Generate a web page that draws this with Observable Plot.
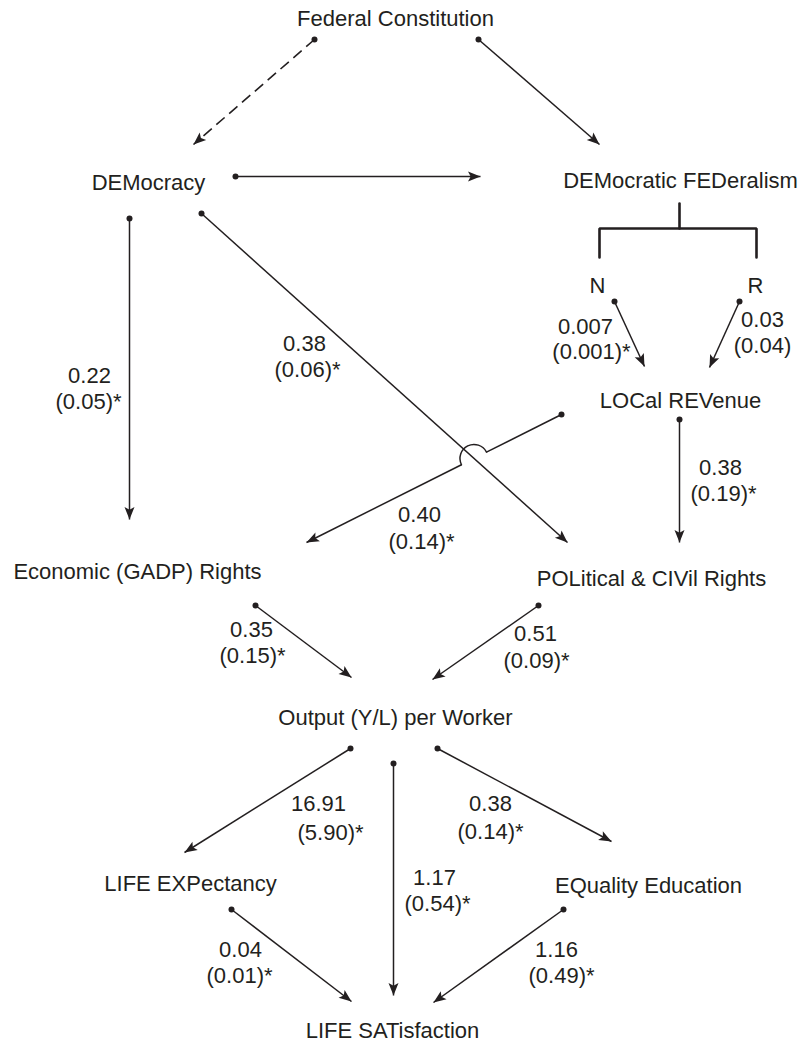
<!DOCTYPE html>
<html>
<head>
<meta charset="utf-8">
<script src="https://cdn.jsdelivr.net/npm/d3@7"></script>
<script src="https://cdn.jsdelivr.net/npm/@observablehq/plot@0.6"></script>
<style>
  html, body { margin: 0; padding: 0; background: #fff; overflow: hidden; }
  #chart svg { display: block; }
</style>
</head>
<body>
<div id="chart"></div>
<script>
// ---- Node labels (text) ----
const nodeNames = [
  "Federal Constitution", "DEMocracy", "DEMocratic FEDeralism", "N", "R",
  "LOCal REVenue", "Economic (GADP) Rights", "POLitical & CIVil Rights",
  "Output (Y/L) per Worker", "LIFE EXPectancy", "EQuality Education", "LIFE SATisfaction"
];
// ---- Path coefficients and standard errors (one per edge) ----
const edgeCoef = ["", "", "", "0.22", "0.38", "0.007", "0.03", "0.38", "0.40", "0.35", "0.51", "16.91", "0.38", "1.17", "0.04", "1.16"];
const edgeSE   = ["", "", "", "(0.05)*", "(0.06)*", "(0.001)*", "(0.04)", "(0.19)*", "(0.14)*", "(0.15)*", "(0.09)*", "(5.90)*", "(0.14)*", "(0.54)*", "(0.01)*", "(0.49)*"];
const edgeDashed = [true, false, false, false, false, false, false, false, false, false, false, false, false, false, false, false];

// ---- Layout (diagram coordinates) ----
const nodeX = [395, 148, 680, 597, 755, 680, 137, 651, 395, 190, 648, 392];
const nodeY = [18, 182, 180, 285, 285, 400, 571, 578, 717, 883, 885, 1030];

const edgeX1 = [314, 478, 235, 129, 201, 614, 739, 679, 561, 255, 538, 350, 437, 393, 231, 563];
const edgeY1 = [39, 39, 176, 218, 213, 301, 301, 419, 414, 605, 605, 748, 748, 763, 909, 909];
const edgeX2 = [193, 599, 480, 129, 567, 644, 709, 679, 306, 351, 432, 184, 611, 393, 351, 433];
const edgeY2 = [144, 144, 176, 519, 542, 366, 367, 542, 542, 677, 679, 852, 841, 995, 1001, 1002];

const coefX = [null, null, null, 89, 304, 585, 762, 720, 419, 251, 535, 318, 490, 434, 240, 556];
const coefY = [null, null, null, 375, 343, 326, 319, 467, 514, 629, 633, 803, 803, 877, 949, 949];
const seX   = [null, null, null, 88, 307, 591, 762, 723, 421, 252, 536, 330, 490, 437, 239, 561];
const seY   = [null, null, null, 401, 369, 351, 345, 493, 541, 655, 660, 832, 831, 903, 975, 975];

// bracket under DEMocratic FEDeralism splitting into N and R
const bracketX = [599, 599, 756, 756];
const bracketY = [257, 228, 228, 257];
const stemX = [679, 679];
const stemY = [203, 228];

// edge 8 (LOCal REVenue -> Economic Rights) hops over edge 4 (DEMocracy -> Political Rights)
const hopEdge = 8, hopOver = 4, hopRadius = 14;

const ink = "#231f20";
const FS = 22;

// ---- Build tables ----
const nodes = nodeNames.map((name, i) => ({name, x: nodeX[i], y: nodeY[i]}));
const edges = edgeX1.map((_, i) => ({
  i, x1: edgeX1[i], y1: edgeY1[i], x2: edgeX2[i], y2: edgeY2[i],
  dashed: edgeDashed[i], coef: edgeCoef[i], se: edgeSE[i],
  cx: coefX[i], cy: coefY[i], sx: seX[i], sy: seY[i]
}));

function intersect(a, b) {
  const d = (a.x1 - a.x2) * (b.y1 - b.y2) - (a.y1 - a.y2) * (b.x1 - b.x2);
  const t = ((a.x1 - b.x1) * (b.y1 - b.y2) - (a.y1 - b.y1) * (b.x1 - b.x2)) / d;
  return {x: a.x1 + t * (a.x2 - a.x1), y: a.y1 + t * (a.y2 - a.y1)};
}

const segs = [];
const arcs = [];
edges.forEach(e => {
  if (e.i === hopEdge) {
    const o = edges[hopOver];
    const P = intersect(e, o);
    const len = Math.hypot(e.x2 - e.x1, e.y2 - e.y1);
    const ux = (e.x2 - e.x1) / len, uy = (e.y2 - e.y1) / len;
    const A = {x: P.x - ux * hopRadius, y: P.y - uy * hopRadius};
    const B = {x: P.x + ux * hopRadius, y: P.y + uy * hopRadius};
    segs.push({x1: e.x1, y1: e.y1, x2: A.x, y2: A.y, dashed: e.dashed});
    segs.push({x1: B.x, y1: B.y, x2: e.x2, y2: e.y2, dashed: e.dashed});
    const L = A.x < B.x ? A : B, R = A.x < B.x ? B : A;
    arcs.push({x1: L.x, y1: L.y, x2: R.x, y2: R.y});
  } else {
    segs.push(e);
  }
});

// stealth arrowhead symbol, tip at origin pointing up
const stealth = {
  draw(context) {
    context.moveTo(0, 0);
    context.lineTo(5, 12.5);
    context.lineTo(0, 9.8);
    context.lineTo(-5, 12.5);
    context.closePath();
  }
};

const chart = Plot.plot({
  width: 804,
  height: 1044,
  margin: 0,
  x: {domain: [0, 804], range: [0, 804], axis: null},
  y: {domain: [0, 1044], range: [0, 1044], axis: null},
  style: {background: "#fff", fontFamily: "'Liberation Sans', Arial, Helvetica, sans-serif", color: ink},
  marks: [
    // bracket
    Plot.line(bracketX.map((x, k) => ({x, y: bracketY[k]})), {x: "x", y: "y", stroke: ink, strokeWidth: 2.6, strokeLinejoin: "miter"}),
    Plot.line(stemX.map((x, k) => ({x, y: stemY[k]})), {x: "x", y: "y", stroke: ink, strokeWidth: 2.6}),
    // edges
    Plot.link(segs.filter(d => !d.dashed), {x1: "x1", y1: "y1", x2: "x2", y2: "y2", stroke: ink, strokeWidth: 1.5}),
    Plot.link(segs.filter(d => d.dashed), {x1: "x1", y1: "y1", x2: "x2", y2: "y2", stroke: ink, strokeWidth: 1.6, strokeDasharray: "11,6"}),
    // hop arc
    Plot.arrow(arcs, {x1: "x1", y1: "y1", x2: "x2", y2: "y2", bend: 90, headLength: 0, stroke: ink, strokeWidth: 1.5}),
    // start dots
    Plot.dot(edges, {x: "x1", y: "y1", r: 3, fill: ink, stroke: "none"}),
    // arrowheads
    Plot.dot(edges, {
      x: "x2", y: "y2", symbol: stealth, r: 5, fill: ink, stroke: "none",
      rotate: d => Math.atan2(d.x2 - d.x1, -(d.y2 - d.y1)) * 180 / Math.PI
    }),
    // node labels
    Plot.text(nodes, {x: "x", y: "y", text: "name", fontSize: FS, fill: ink, textAnchor: "middle"}),
    // coefficient labels
    Plot.text(edges.filter(d => d.coef), {x: "cx", y: "cy", text: "coef", fontSize: FS, fill: ink, textAnchor: "middle"}),
    Plot.text(edges.filter(d => d.se), {x: "sx", y: "sy", text: "se", fontSize: FS, fill: ink, textAnchor: "middle"})
  ]
});

document.getElementById("chart").appendChild(chart);
</script>
</body>
</html>
